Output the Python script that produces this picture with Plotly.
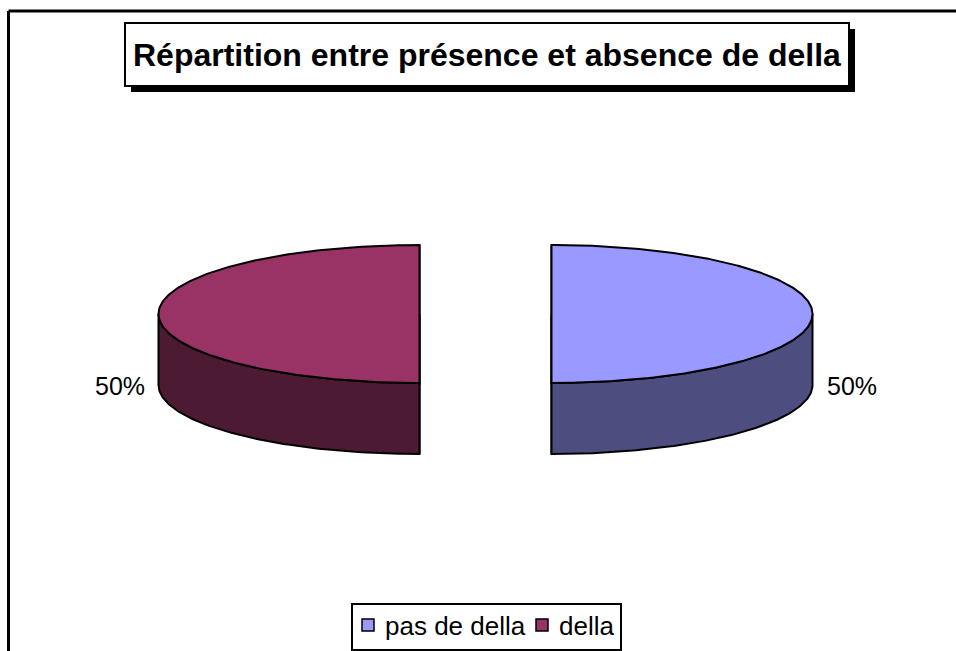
import numpy as np
import plotly.graph_objects as go

# ---- data ----
categories = ["pas de della", "della"]
values = [50, 50]
top_colors = ["#9999FF", "#993366"]
side_colors = ["#4D4D80", "#4D1A33"]
title_text = "Répartition entre présence et absence de della"

# ---- geometry (layout constants, pixel space) ----
W, H = 956, 651
cx, cy = 485.5, 314.0
a, b = 261.0, 69.0
depth = 71.0
explode = 66.0
font_fam = "Arial, 'Liberation Sans', sans-serif"

fig = go.Figure()

total = float(sum(values))
start = 0.0
label_annots = []
for cat, val, tc, sc in zip(categories, values, top_colors, side_colors):
    frac = val / total
    th0 = start
    th1 = start + frac * 2 * np.pi
    start = th1
    phi = (th0 + th1) / 2
    dx = explode * np.sin(phi)
    dy = -explode * np.cos(phi) * (b / a)
    ox, oy = cx + dx, cy + dy

    def pt(t, z=0.0):
        return ox + a * np.sin(t), oy - b * np.cos(t) + z

    line = dict(color="black", width=2)
    # radial cut faces
    for t in (th0, th1):
        ex, ey = pt(t)
        xs = [ox, ex, ex, ox, ox]
        ys = [oy, ey, ey + depth, oy + depth, oy]
        fig.add_trace(go.Scatter(x=xs, y=ys, mode="lines", fill="toself",
                                 fillcolor=sc, line=line, hoverinfo="skip",
                                 showlegend=False))
    # outer wall (front half only)
    lo = max(th0, np.pi / 2)
    hi = min(th1, 3 * np.pi / 2)
    if hi > lo:
        ts = np.linspace(lo, hi, 120)
        tx, ty = pt(ts)
        xs = np.concatenate([tx, tx[::-1], tx[:1]])
        ys = np.concatenate([ty, (ty + depth)[::-1], ty[:1]])
        fig.add_trace(go.Scatter(x=xs, y=ys, mode="lines", fill="toself",
                                 fillcolor=sc, line=line, hoverinfo="skip",
                                 showlegend=False))
    # top face
    ts = np.linspace(th0, th1, 240)
    tx, ty = pt(ts)
    xs = np.concatenate([[ox], tx, [ox]])
    ys = np.concatenate([[oy], ty, [oy]])
    fig.add_trace(go.Scatter(x=xs, y=ys, mode="lines", fill="toself",
                             fillcolor=tc, line=line, hoverinfo="skip",
                             showlegend=False))
    # percentage label
    side = np.sign(np.sin(phi))
    lx = ox + side * (a + 12)
    label_annots.append(dict(
        x=lx, y=oy + depth + 1, xref="x", yref="y", showarrow=False,
        text=f"{round(frac * 100)}%",
        xanchor="left" if side > 0 else "right", yanchor="middle",
        font=dict(family=font_fam, size=25, color="black")))

shapes = []
# chart area border (only top/left visible)
shapes.append(dict(type="line", xref="x", yref="y", x0=8.5, y0=11, x1=W + 5, y1=11,
                   line=dict(color="black", width=3)))
shapes.append(dict(type="line", xref="x", yref="y", x0=8.5, y0=11, x1=8.5, y1=H + 5,
                   line=dict(color="black", width=3)))
# title box with shadow
shapes.append(dict(type="rect", xref="x", yref="y", x0=131, y0=29, x1=855, y1=92,
                   fillcolor="black", line=dict(width=0), layer="above"))
shapes.append(dict(type="rect", xref="x", yref="y", x0=125, y0=23, x1=849, y1=86,
                   fillcolor="white", line=dict(color="black", width=2), layer="above"))
# legend box
shapes.append(dict(type="rect", xref="x", yref="y", x0=352, y0=604, x1=621, y1=650,
                   fillcolor="white", line=dict(color="black", width=2), layer="above"))

annots = list(label_annots)
annots.append(dict(x=487, y=55, xref="x", yref="y", showarrow=False,
                   text=f"<b>{title_text}</b>", xanchor="center", yanchor="middle",
                   font=dict(family=font_fam, size=32, color="black")))

# legend entries
leg_x = [362, 536]
for cat, tc, lxp in zip(categories, top_colors, leg_x):
    shapes.append(dict(type="rect", xref="x", yref="y", x0=lxp, y0=619, x1=lxp + 12, y1=631,
                       fillcolor=tc, line=dict(color="black", width=1.5), layer="above"))
    annots.append(dict(x=lxp + 21, y=626, xref="x", yref="y", showarrow=False,
                       text=cat, xanchor="left", yanchor="middle",
                       font=dict(family=font_fam, size=26, color="black")))

fig.update_layout(
    width=W, height=H,
    margin=dict(l=0, r=0, t=0, b=0),
    paper_bgcolor="white", plot_bgcolor="white",
    xaxis=dict(range=[0, W], visible=False, fixedrange=True),
    yaxis=dict(range=[H, 0], visible=False, fixedrange=True),
    shapes=shapes, annotations=annots,
    showlegend=False,
)
fig.write_html("out.html", config={"displayModeBar": False},
               post_script="document.body.style.margin='0';document.body.style.overflow='hidden';")
